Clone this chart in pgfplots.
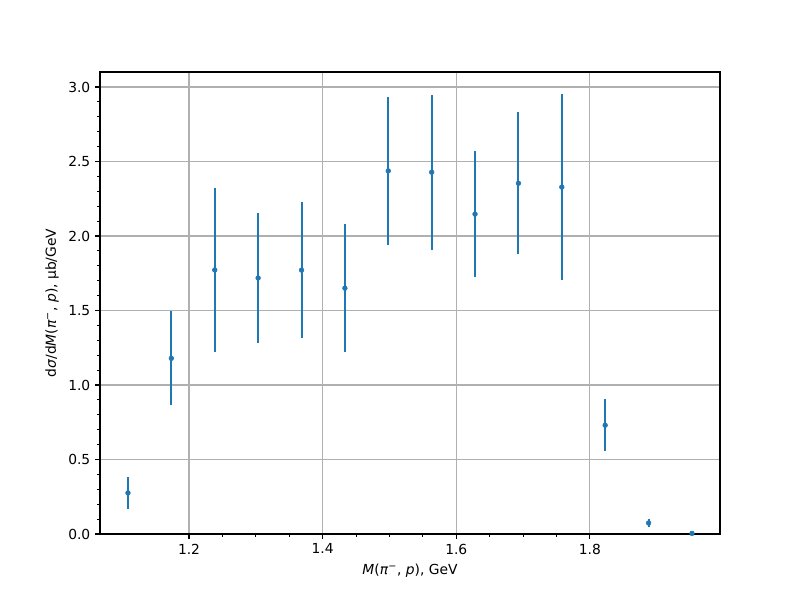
\documentclass[border=0pt]{standalone}
\usepackage{fontspec}
\setmainfont{DejaVu Sans}
\usepackage{pgfplots}
\pgfplotsset{compat=1.18}
\definecolor{mplblue}{HTML}{1F77B4}
\definecolor{gridgray}{HTML}{B0B0B0}
\begin{document}
\begin{tikzpicture}
\path[use as bounding box] (-1in,-0.66in) rectangle (7in,5.34in);
\begin{axis}[
  at={(0,0)}, anchor=south west,
  scale only axis,
  width=6.2in, height=4.62in,
  xmin=1.0667, xmax=1.9948,
  ymin=0, ymax=3.1007,
  xtick={1.2,1.4,1.6,1.8},
  ytick={0,0.5,1.0,1.5,2.0,2.5,3.0},
  minor x tick num=3,
  minor y tick num=4,
  xtick pos=bottom, ytick pos=left,
  tick align=outside,
  major tick length=3.5pt,
  minor tick length=2pt,
  every major tick/.style={black, line width=0.8pt},
  every minor tick/.style={black, line width=0.6pt},
  axis line style={line width=0.8pt},
  grid=major,
  major grid style={gridgray, line width=0.8pt},
  tick label style={font=\fontsize{10}{12}\selectfont},
  label style={font=\fontsize{10}{12}\selectfont},
  /pgf/number format/assume math mode=true,
  xticklabel style={/pgf/number format/.cd, fixed, fixed zerofill, precision=1},
  yticklabel style={/pgf/number format/.cd, fixed, fixed zerofill, precision=1},
  xlabel={\textit{M}(\textit{π}\textsuperscript{−}, \textit{p}), GeV},
  ylabel={d\textit{σ}/d\textit{M}(\textit{π}\textsuperscript{−}, \textit{p}), μb/GeV},
]
\addplot[
  only marks, mark=*, mark size=1.7pt, color=mplblue,
  error bars/.cd, y dir=both, y explicit,
  error mark=none,
  error bar style={line width=1.5pt, mplblue},
] table[x=x, y=y, y error=e] {
x y e
1.1086 0.276 0.105
1.1735 1.179 0.316
1.2385 1.772 0.548
1.3034 1.718 0.438
1.3684 1.771 0.457
1.4333 1.650 0.429
1.4982 2.437 0.499
1.5632 2.428 0.519
1.6281 2.147 0.425
1.6931 2.354 0.476
1.7580 2.328 0.623
1.8229 0.730 0.173
1.8879 0.074 0.027
1.9528 0.004 0.003
};
\end{axis}
\end{tikzpicture}
\end{document}
